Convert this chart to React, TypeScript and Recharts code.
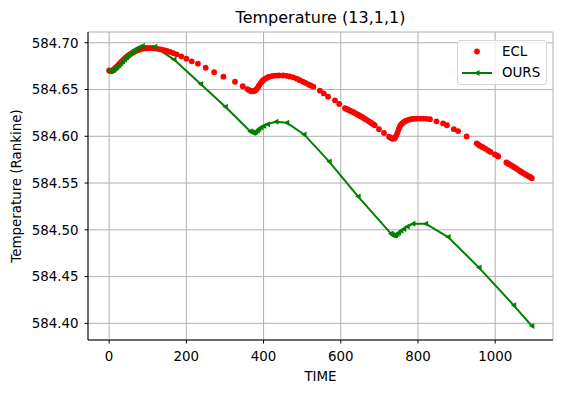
import {
  CartesianGrid,
  ComposedChart,
  Line,
  Scatter,
  XAxis,
  YAxis,
} from "recharts";

// ECL reference solution (red dots)
const ECL_T = [
  0, 2, 4, 6, 8, 10, 12, 14, 16, 18, 20, 23, 26, 29, 32, 35, 38, 41, 44, 47,
  50, 54, 58, 62, 66, 70, 75, 80, 86, 92, 98, 105, 112, 119, 126, 134, 142,
  150, 158, 166, 175, 187, 200, 214, 230, 250, 272, 296, 326, 346, 358, 363,
  366, 369, 372, 375, 378, 381, 384, 387, 390, 393, 396, 399, 403, 408, 413,
  419, 425, 432, 440, 451, 460, 468, 477, 486, 494, 502, 509, 516, 522, 529,
  546, 556, 567, 585, 596, 611, 615, 619, 623, 627, 631, 635, 639, 643, 647,
  651, 655, 659, 663, 667, 671, 675, 679, 684, 688, 699, 712, 725, 729, 732,
  735, 738, 741, 744, 747, 750, 753, 756, 759, 762, 766, 770, 775, 781, 788,
  796, 805, 813, 822, 831, 848, 865, 875, 893, 904, 926, 952, 956, 960, 965,
  969, 975, 982, 988, 999, 1004, 1008, 1029, 1033, 1036, 1040, 1044, 1048,
  1051, 1055, 1060, 1064, 1068, 1072, 1077, 1081, 1085, 1089, 1092, 1095,
];
const ECL_V = [
  584.6704, 584.67, 584.6698, 584.6699, 584.6702, 584.6707, 584.6713,
  584.672, 584.6728, 584.6736, 584.6745, 584.6758, 584.6771, 584.6784,
  584.6797, 584.681, 584.6822, 584.6833, 584.6844, 584.6854, 584.6864,
  584.6876, 584.6887, 584.6897, 584.6906, 584.6914, 584.6922, 584.6929,
  584.6935, 584.6939, 584.6941, 584.6942, 584.6941, 584.6939, 584.6935,
  584.6929, 584.6921, 584.6912, 584.6902, 584.689, 584.6876, 584.6855,
  584.683, 584.6802, 584.6776, 584.6733, 584.6686, 584.6637, 584.6583,
  584.6535, 584.6505, 584.6492, 584.6486, 584.6482, 584.6481, 584.6483,
  584.6489, 584.65, 584.6515, 584.6535, 584.6553, 584.6572, 584.6588,
  584.66, 584.6612, 584.6624, 584.6634, 584.6641, 584.6646, 584.6649,
  584.665, 584.665, 584.6646, 584.664, 584.663, 584.6616, 584.66, 584.6584,
  584.657, 584.6556, 584.6543, 584.653, 584.6488, 584.6458, 584.6424,
  584.6385, 584.6345, 584.63, 584.6292, 584.6284, 584.6276, 584.6268,
  584.626, 584.6252, 584.6243, 584.6234, 584.6225, 584.6215, 584.6206,
  584.6196, 584.6186, 584.6176, 584.6165, 584.6155, 584.6143, 584.613,
  584.6118, 584.6075, 584.6035, 584.5995, 584.5985, 584.5978, 584.5974,
  584.5975, 584.5985, 584.601, 584.604, 584.6075, 584.6105, 584.6125,
  584.6138, 584.6148, 584.616, 584.6168, 584.6176, 584.6182, 584.6186,
  584.6188, 584.6189, 584.6189, 584.6187, 584.6182, 584.616, 584.6138,
  584.6118, 584.6076, 584.6056, 584.5998, 584.5925, 584.5914, 584.59,
  584.5889, 584.588, 584.5866, 584.5848, 584.5833, 584.5806, 584.5795,
  584.5784, 584.572, 584.571, 584.5702, 584.5692, 584.5683, 584.5674,
  584.5666, 584.5655, 584.5641, 584.563, 584.5619, 584.5608, 584.5596,
  584.5586, 584.5577, 584.5568, 584.5561, 584.5552,
];

// our model (green line with triangle markers)
const OURS_T = [
  0, 5, 10, 15, 20, 25, 30, 35, 40, 45, 50, 55, 60, 65, 70, 78, 86, 118, 168,
  237, 301, 365, 368, 371, 374, 377, 380, 384, 388, 393, 400, 410, 432, 460,
  505, 570, 645, 730, 733, 736, 739, 742, 746, 750, 756, 763, 772, 787, 820,
  878, 958, 1048, 1095,
];
const OURS_V = [
  584.67, 584.6702, 584.671, 584.6722, 584.6738, 584.6757, 584.6778, 584.68,
  584.6822, 584.6845, 584.6868, 584.6888, 584.6906, 584.6921, 584.6935,
  584.6952, 584.6965, 584.6958, 584.682, 584.656, 584.6316, 584.6055,
  584.6045, 584.604, 584.6038, 584.604, 584.6048, 584.6062, 584.6077,
  584.6093, 584.611, 584.613, 584.6155, 584.6145, 584.602, 584.573, 584.5355,
  584.496, 584.4948, 584.494, 584.4938, 584.4943, 584.4955, 584.497, 584.499,
  584.501, 584.5035, 584.5065, 584.5066, 584.4923, 584.4596, 584.4193,
  584.3972,
];

const X_TICKS = [0, 200, 400, 600, 800, 1000];
const Y_TICKS = [584.4, 584.45, 584.5, 584.55, 584.6, 584.65, 584.7];
const X_DOMAIN = [-54.75, 1149.75];
const Y_DOMAIN = [584.3822, 584.7115];

const eclData = ECL_T.map((t, i) => ({ t, v: ECL_V[i] }));
const oursData = OURS_T.map((t, i) => ({ t, v: OURS_V[i] }));

const FONT = '"DejaVu Sans", sans-serif';
const GREEN = "#008000";
const RED = "#ff0000";

function LeftTri(props: any) {
  const { cx, cy, index } = props;
  if (cx == null || cy == null) return null;
  return (
    <polygon
      key={`tri-${index}`}
      points={`${cx - 3},${cy} ${cx + 2.5},${cy - 3} ${cx + 2.5},${cy + 3}`}
      fill={GREEN}
    />
  );
}

function RedDot(props: any) {
  const { cx, cy } = props;
  return <circle cx={cx} cy={cy} r={2.9} fill={RED} />;
}

export default function App() {
  const tick = { fill: "#000", fontSize: 13.4, fontFamily: FONT };
  return (
    <div
      style={{
        position: "absolute",
        left: 0,
        top: 0,
        width: 562,
        height: 393,
        fontFamily: FONT,
        background: "#fff",
      }}
    >
      <div
        style={{
          position: "absolute",
          left: 88,
          top: 8,
          width: 465,
          textAlign: "center",
          fontSize: 16,
          lineHeight: "20px",
        }}
      >
        Temperature (13,1,1)
      </div>
      <ComposedChart
        width={562}
        height={393}
        margin={{ top: 32, right: 9, bottom: 0, left: 0 }}
      >
        <CartesianGrid stroke="#b0b0b0" strokeWidth={1} />
        <XAxis
          dataKey="t"
          type="number"
          domain={X_DOMAIN}
          ticks={X_TICKS}
          height={53}
          tickSize={3.5}
          tickMargin={8}
          stroke="#000"
          tick={tick}
          label={{
            content: () => (
              <text
                x={320.5}
                y={381}
                textAnchor="middle"
                fontSize={13.4}
                fontFamily={FONT}
                fill="#000"
              >
                TIME
              </text>
            ),
          }}
        />
        <XAxis
          xAxisId="top"
          orientation="top"
          type="number"
          domain={X_DOMAIN}
          height={0}
          tick={false}
          tickLine={false}
          stroke="#000"
        />
        <YAxis
          dataKey="v"
          type="number"
          domain={Y_DOMAIN}
          ticks={Y_TICKS}
          width={88}
          tickSize={3.5}
          tickMargin={6}
          stroke="#000"
          tick={tick}
          tickFormatter={(v: number) => v.toFixed(2)}
          label={{
            content: () => (
              <text
                x={16}
                y={186}
                transform="rotate(-90 16 186)"
                textAnchor="middle"
                dominantBaseline="central"
                fontSize={13.4}
                fontFamily={FONT}
                fill="#000"
              >
                Temperature (Rankine)
              </text>
            ),
          }}
        />
        <YAxis
          yAxisId="right"
          orientation="right"
          type="number"
          domain={Y_DOMAIN}
          width={0}
          tick={false}
          tickLine={false}
          stroke="#000"
        />
        <Scatter
          name="ECL"
          data={eclData}
          dataKey="v"
          fill={RED}
          shape={RedDot}
          isAnimationActive={false}
        />
        <Line
          name="OURS"
          data={oursData}
          dataKey="v"
          type="linear"
          stroke={GREEN}
          strokeWidth={2}
          dot={LeftTri}
          activeDot={false}
          isAnimationActive={false}
        />
      </ComposedChart>
      {/* legend, matplotlib style box in the upper right */}
      <div
        style={{
          position: "absolute",
          left: 457,
          top: 40,
          width: 88,
          height: 43,
          border: "1px solid #d6d6d6",
          borderRadius: 3,
          background: "rgba(255,255,255,0.8)",
          fontSize: 13.4,
        }}
      >
        <svg
          width={40}
          height={43}
          style={{ position: "absolute", left: 0, top: 0 }}
        >
          <circle cx={19} cy={10.5} r={2.9} fill={RED} />
          <line x1={4} y1={32} x2={34} y2={32} stroke={GREEN} strokeWidth={2} />
          <polygon points="16,32 21.5,29 21.5,35" fill={GREEN} />
        </svg>
        <div style={{ position: "absolute", left: 44, top: 1, lineHeight: "20px" }}>
          ECL
        </div>
        <div style={{ position: "absolute", left: 44, top: 22, lineHeight: "20px" }}>
          OURS
        </div>
      </div>
    </div>
  );
}
